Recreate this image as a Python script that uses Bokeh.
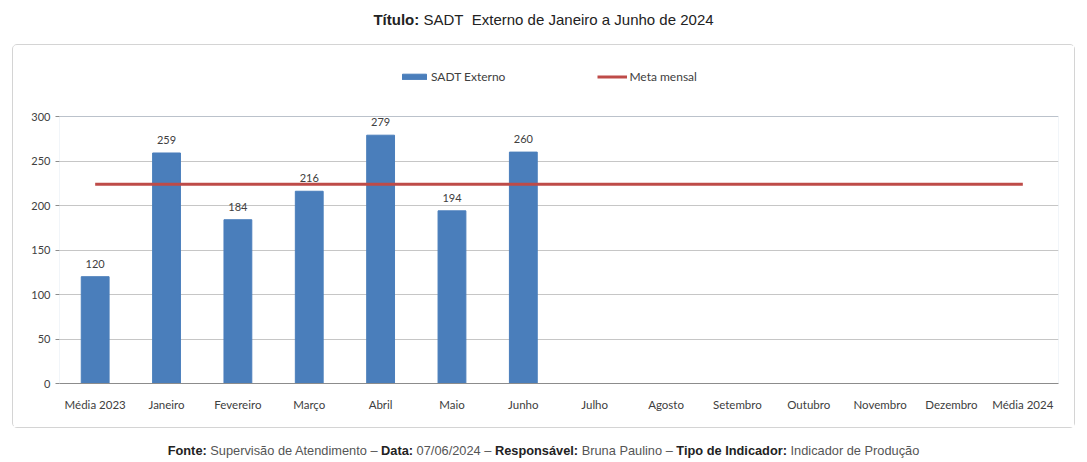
from bokeh.plotting import figure
from bokeh.models import (ColumnDataSource, FactorRange, Range1d, Legend, LegendItem, Div, LabelSet,
                          FixedTicker, BoxAnnotation)
from bokeh.layouts import column
from bokeh.embed import file_html
from bokeh.resources import INLINE
from bokeh.core.properties import value

categories = ["Média 2023", "Janeiro", "Fevereiro", "Março", "Abril", "Maio", "Junho",
              "Julho", "Agosto", "Setembro", "Outubro", "Novembro", "Dezembro", "Média 2024"]
bar_categories = ["Média 2023", "Janeiro", "Fevereiro", "Março", "Abril", "Maio", "Junho"]
bar_values = [120, 259, 184, 216, 279, 194, 260]
meta_values = [224, 224, 224, 224, 224, 224, 224, 224, 224, 224, 224, 224, 224, 224]
y_ticks = [0, 50, 100, 150, 200, 250, 300]
y_max = 300

FONT = "Lato"
TXT = "#404040"

bars = ColumnDataSource(dict(x=bar_categories, y=bar_values, lbl=[str(v) for v in bar_values]))
meta = ColumnDataSource(dict(x=categories, y=meta_values))

# the frame reaches up into the legend strip; the plot area (0..300) is outlined by a box
FRAME_H = 318
AREA_H = 267
p = figure(width=1063, height=384, x_range=FactorRange(factors=categories, range_padding=0),
           y_range=Range1d(0, y_max * FRAME_H / AREA_H), output_backend="svg", toolbar_location=None,
           min_border_left=46, min_border_right=18, min_border_top=20, min_border_bottom=46,
           margin=(0, 0, 0, 4),
           styles={"border": "1px solid #d4d4d4", "border-radius": "5px", "box-sizing": "border-box"})

vb = p.vbar(x="x", top="y", width=0.39, source=bars, fill_color="#4A7EBB", line_color="#4A7EBB")
ln = p.line(x="x", y="y", source=meta, line_color="#BE4B48", line_width=3)

area = BoxAnnotation(bottom=0, top=y_max, fill_alpha=0, line_color="#a3b9d6", line_width=1, level="underlay")
p.add_layout(area)

labels = LabelSet(x="x", y="y", text="lbl", source=bars, y_offset=9, text_align="center",
                  text_baseline="bottom", text_font=value(FONT), text_font_size="11px", text_color=TXT)
p.add_layout(labels)

p.outline_line_color = None
p.xgrid.grid_line_color = None
p.ygrid.grid_line_color = "#c6c6c6"
p.ygrid.ticker = FixedTicker(ticks=y_ticks)

p.yaxis.ticker = FixedTicker(ticks=y_ticks)
p.yaxis.axis_line_color = None
p.yaxis.major_tick_line_color = "#8c8c8c"
p.yaxis.major_tick_in = 0
p.yaxis.major_tick_out = 4
p.yaxis.minor_tick_line_color = None
p.yaxis.major_label_text_font = FONT
p.yaxis.major_label_text_font_size = "11px"
p.yaxis.major_label_text_color = TXT

p.xaxis.axis_line_color = "#8c8c8c"
p.xaxis.major_tick_line_color = None
p.xaxis.major_label_text_font = FONT
p.xaxis.major_label_text_font_size = "11.5px"
p.xaxis.major_label_text_color = TXT
p.xaxis.major_label_standoff = 8

legend = Legend(items=[LegendItem(label="SADT Externo", renderers=[vb]),
                       LegendItem(label="Meta mensal", renderers=[ln])],
                orientation="horizontal", location=(340, 299), spacing=92,
                glyph_width=30, glyph_height=7, label_height=12,
                label_text_font=FONT, label_text_font_size="12px",
                label_text_color=TXT, background_fill_alpha=0, border_line_color=None,
                label_standoff=2, padding=2, margin=0)
p.add_layout(legend, "center")

title = Div(width=1071, height=36, margin=0,
            text="<div style='width:1071px;text-align:center;font-family:\"Liberation Sans\";font-size:15px;color:#222;padding-top:1px'>"
                 "<b>Título:</b> SADT&nbsp; Externo de Janeiro a Junho de 2024</div>")
footer = Div(width=1071, height=34, margin=0,
             text="<div style='width:1071px;text-align:center;font-family:\"Liberation Sans\";font-size:12.8px;color:#555;padding-top:14px'>"
                  "<b style='color:#222'>Fonte:</b> Supervisão de Atendimento – <b style='color:#222'>Data:</b> 07/06/2024 – "
                  "<b style='color:#222'>Responsável:</b> Bruna Paulino – "
                  "<b style='color:#222'>Tipo de Indicador:</b> Indicador de Produção</div>")

layout = column(title, p, footer, margin=(8, 0, 0, 8), spacing=0)
open("out.html", "w").write(file_html(layout, INLINE))
